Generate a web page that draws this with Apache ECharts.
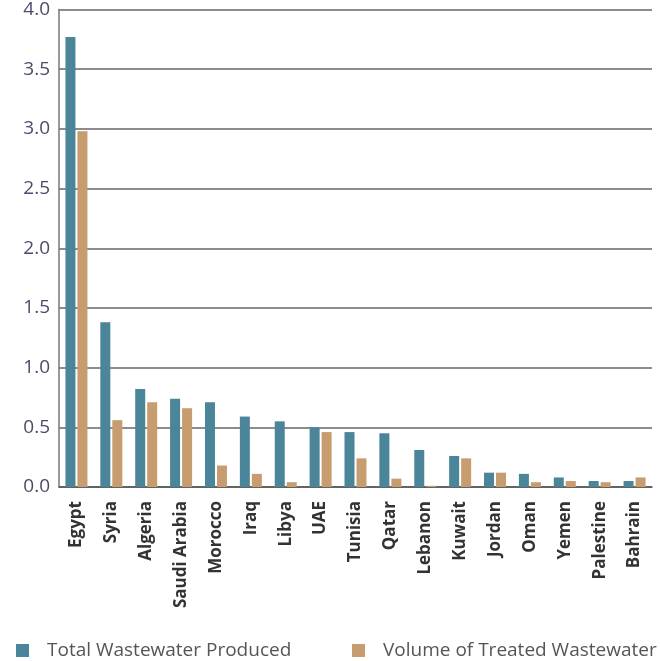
<!DOCTYPE html>
<html>
<head>
<meta charset="utf-8">
<script src="https://cdn.jsdelivr.net/npm/echarts@6/dist/echarts.min.js"></script>
<style>html,body{margin:0;padding:0;background:#fff}#c{width:660px;height:661px}</style>
</head>
<body>
<div id="c"></div>
<script>
const categories = ["Egypt","Syria","Algeria","Saudi Arabia","Morocco","Iraq","Libya","UAE","Tunisia","Qatar","Lebanon","Kuwait","Jordan","Oman","Yemen","Palestine","Bahrain"];
const totalProduced = [3.77,1.38,0.82,0.74,0.71,0.59,0.55,0.50,0.46,0.45,0.31,0.26,0.12,0.11,0.08,0.05,0.05];
const treatedVolume = [2.98,0.56,0.71,0.66,0.18,0.11,0.04,0.46,0.24,0.07,0.01,0.24,0.12,0.04,0.05,0.04,0.08];
const seriesNames = ["Total Wastewater Produced","Volume of Treated Wastewater"];

const chart = echarts.init(document.getElementById('c'));
const legendText = {color:'#555', fontSize:19, lineHeight:19, fontFamily:'Open Sans', padding:[0,0,0,13]};
chart.setOption({
  animation:false,
  grid:{left:59,right:8,top:7,bottom:174},
  legend:[
    {data:[seriesNames[0]], left:16, top:641, padding:0, icon:'rect', itemWidth:13, itemHeight:13, textStyle:legendText},
    {data:[seriesNames[1]], left:352, top:641, padding:0, icon:'rect', itemWidth:13, itemHeight:13, textStyle:legendText}
  ],
  xAxis:{
    type:'category', data:categories,
    axisLine:{lineStyle:{color:'#555',width:1.5}},
    axisTick:{inside:true,length:6,lineStyle:{color:'#333',width:1.5}},
    axisLabel:{rotate:90,margin:14,fontWeight:'bold',fontSize:17,color:'#333',fontFamily:'Open Sans',interval:0}
  },
  yAxis:{
    type:'value', min:0, max:4, interval:0.5,
    axisLine:{show:true,lineStyle:{color:'#777',width:1.5}},
    axisTick:{show:false},
    splitLine:{lineStyle:{color:'#666',width:1.5}},
    axisLabel:{margin:9,fontSize:19,color:'#4b4b6b',fontFamily:'Open Sans',padding:[10,0,0,0],formatter:v=>v.toFixed(1)}
  },
  series:[
    {name:seriesNames[0],type:'bar',data:totalProduced,barWidth:10,barGap:'20%',itemStyle:{color:'#4a8599'}},
    {name:seriesNames[1],type:'bar',data:treatedVolume,barWidth:10,itemStyle:{color:'#c79c6e'}}
  ]
});
</script>
</body>
</html>
